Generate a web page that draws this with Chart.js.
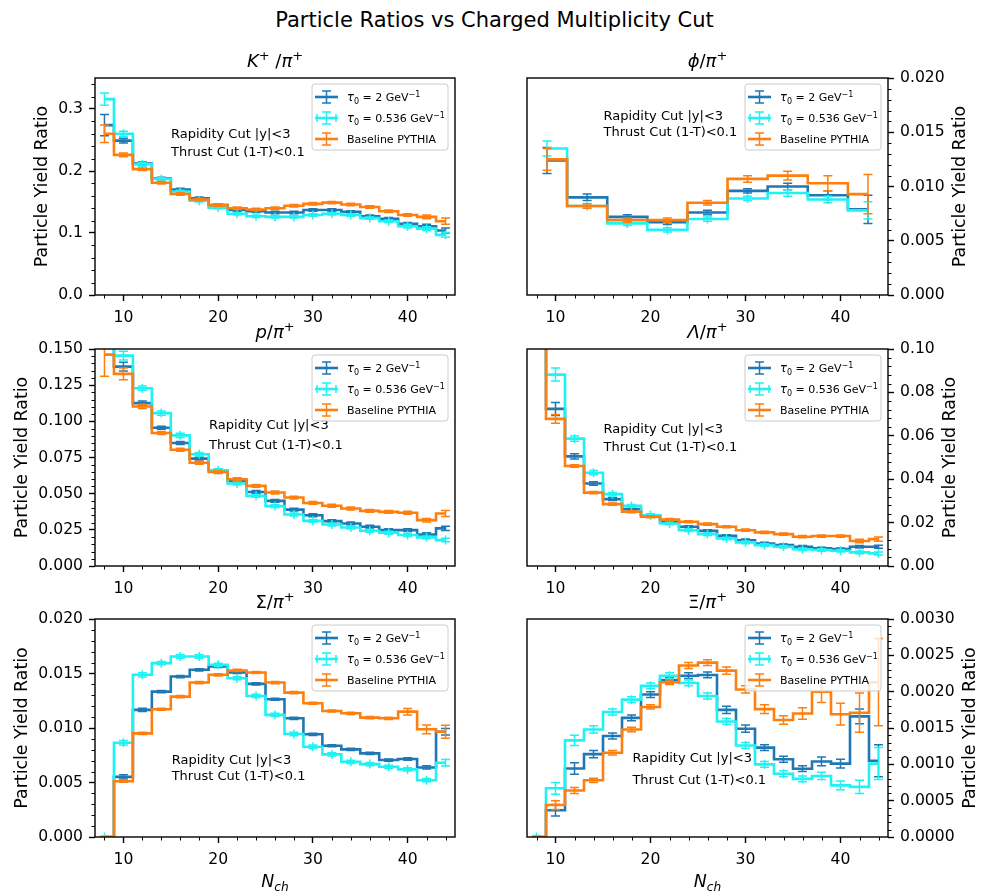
<!DOCTYPE html>
<html>
<head>
<meta charset="utf-8">
<script src="https://cdn.jsdelivr.net/npm/chart.js@4.4.0/dist/chart.umd.min.js"></script>
<style>
  body { margin: 0; background: #fff; }
  #fig { position: relative; width: 989px; height: 891px; background: #fff; overflow: hidden; font-family: 'DejaVu Sans'; }
  #suptitle { position: absolute; left: 0; top: 10px; width: 989px; text-align: center; font-size: 21px; line-height: 21px; color: #000; }
  canvas { position: absolute; }
</style>
</head>
<body>
<div id="fig">
  <div id="suptitle">Particle Ratios vs Charged Multiplicity Cut</div>
</div>
<script>
'use strict';

// bin centres (N_ch)
const nch = [8, 10, 12, 14, 16, 18, 20, 22, 24, 26, 28, 30, 32, 34, 36, 38, 40, 42, 44];
const nchPhi = [9.11, 13.33, 17.56, 21.78, 26.0, 30.22, 34.44, 38.67, 42.89];
const nchTickLabels = ['10', '20', '30', '40'];

const seriesLabels = ['τ₀ = 2 GeV⁻¹', 'τ₀ = 0.536 GeV⁻¹', 'Baseline PYTHIA'];

// K+/pi+
const kpiTau2 = [0.274, 0.249, 0.212, 0.188, 0.170, 0.156, 0.145, 0.137, 0.135, 0.133, 0.133, 0.137, 0.137, 0.134, 0.127, 0.123, 0.115, 0.111, 0.104];
const kpiTau2Err = [0.017, 0.004, 0.003, 0.002, 0.002, 0.002, 0.002, 0.002, 0.002, 0.002, 0.002, 0.002, 0.002, 0.002, 0.002, 0.002, 0.002, 0.003, 0.004];
const kpiTau0536 = [0.316, 0.260, 0.211, 0.187, 0.167, 0.152, 0.141, 0.131, 0.127, 0.126, 0.126, 0.129, 0.131, 0.129, 0.124, 0.119, 0.111, 0.107, 0.097];
const kpiTau0536Err = [0.010, 0.004, 0.003, 0.002, 0.002, 0.002, 0.002, 0.002, 0.002, 0.002, 0.002, 0.002, 0.002, 0.002, 0.002, 0.002, 0.003, 0.003, 0.004];
const kpiBase = [0.260, 0.226, 0.203, 0.181, 0.163, 0.154, 0.145, 0.140, 0.138, 0.140, 0.144, 0.147, 0.149, 0.146, 0.142, 0.135, 0.129, 0.126, 0.119];
const kpiBaseErr = [0.014, 0.003, 0.002, 0.002, 0.002, 0.002, 0.002, 0.002, 0.002, 0.002, 0.002, 0.002, 0.002, 0.002, 0.002, 0.002, 0.002, 0.003, 0.005];
const kpiTickLabels = ['0.0', '0.1', '0.2', '0.3'];

// phi/pi+
const phiTau2 = [0.0124, 0.0090, 0.0072, 0.0067, 0.0076, 0.0096, 0.0100, 0.0092, 0.0079];
const phiTau2Err = [0.0012, 0.0003, 0.0002, 0.0002, 0.0002, 0.0002, 0.0003, 0.0004, 0.0013];
const phiTau0536 = [0.0135, 0.0082, 0.0066, 0.0060, 0.0070, 0.0089, 0.0094, 0.0088, 0.0078];
const phiTau0536Err = [0.0007, 0.0002, 0.0002, 0.0002, 0.0002, 0.0002, 0.0003, 0.0003, 0.0008];
const phiBase = [0.0125, 0.0082, 0.0069, 0.0069, 0.0085, 0.0107, 0.0110, 0.0103, 0.0093];
const phiBaseErr = [0.0010, 0.0002, 0.0002, 0.0002, 0.0002, 0.0003, 0.0004, 0.0007, 0.0018];
const phiTickLabels = ['0.000', '0.005', '0.010', '0.015', '0.020'];

// p/pi+
const ppiTau2 = [0.165, 0.1378, 0.1126, 0.0956, 0.0850, 0.0742, 0.0662, 0.0588, 0.0512, 0.0450, 0.0390, 0.0351, 0.0310, 0.0294, 0.0271, 0.0248, 0.0248, 0.0218, 0.0260];
const ppiTau2Err = [0.010, 0.003, 0.0015, 0.001, 0.001, 0.001, 0.001, 0.001, 0.001, 0.001, 0.001, 0.001, 0.001, 0.001, 0.001, 0.001, 0.001, 0.0012, 0.0015];
const ppiTau0536 = [0.175, 0.1454, 0.1229, 0.1057, 0.0903, 0.0772, 0.0662, 0.0570, 0.0485, 0.0414, 0.0356, 0.0312, 0.0287, 0.0266, 0.0244, 0.0230, 0.0214, 0.0198, 0.0179];
const ppiTau0536Err = [0.008, 0.003, 0.0015, 0.0015, 0.0015, 0.0012, 0.001, 0.001, 0.001, 0.001, 0.001, 0.001, 0.001, 0.001, 0.001, 0.001, 0.001, 0.001, 0.0012];
const ppiBase = [0.1461, 0.1328, 0.1103, 0.0919, 0.0804, 0.0714, 0.0650, 0.0600, 0.0554, 0.0508, 0.0473, 0.0436, 0.0416, 0.0397, 0.0381, 0.0374, 0.0368, 0.0317, 0.0363];
const ppiBaseErr = [0.015, 0.004, 0.0015, 0.001, 0.001, 0.001, 0.001, 0.001, 0.001, 0.001, 0.001, 0.001, 0.001, 0.001, 0.001, 0.001, 0.001, 0.0012, 0.002];
const ppiTickLabels = ['0.000', '0.025', '0.050', '0.075', '0.100', '0.125', '0.150'];

// Lambda/pi+
const lpiTau2 = [0.125, 0.0724, 0.0505, 0.0380, 0.0308, 0.0262, 0.0234, 0.0204, 0.0181, 0.0162, 0.0139, 0.0119, 0.0104, 0.0096, 0.0089, 0.0081, 0.0078, 0.0089, 0.0089];
const lpiTau2Err = [0.010, 0.003, 0.0012, 0.0008, 0.0006, 0.0005, 0.0005, 0.0005, 0.0005, 0.0005, 0.0005, 0.0005, 0.0005, 0.0005, 0.0005, 0.0005, 0.0005, 0.0006, 0.0007];
const lpiTau0536 = [0.140, 0.0882, 0.0587, 0.0430, 0.0331, 0.0277, 0.0234, 0.0196, 0.0165, 0.0147, 0.0127, 0.0109, 0.0096, 0.0089, 0.0077, 0.0074, 0.0070, 0.0063, 0.0058];
const lpiTau0536Err = [0.010, 0.003, 0.0012, 0.001, 0.0008, 0.0006, 0.0006, 0.0006, 0.0006, 0.0006, 0.0006, 0.0006, 0.0006, 0.0006, 0.0006, 0.0006, 0.0006, 0.0006, 0.0007];
const lpiBase = [0.120, 0.0678, 0.0461, 0.0338, 0.0285, 0.0250, 0.0227, 0.0214, 0.0204, 0.0193, 0.0181, 0.0165, 0.0155, 0.0147, 0.0135, 0.0138, 0.0138, 0.0115, 0.0124];
const lpiBaseErr = [0.010, 0.002, 0.0006, 0.0005, 0.0005, 0.0005, 0.0005, 0.0005, 0.0005, 0.0005, 0.0005, 0.0005, 0.0005, 0.0005, 0.0005, 0.0005, 0.0005, 0.0008, 0.001];
const lpiTickLabels = ['0.00', '0.02', '0.04', '0.06', '0.08', '0.10'];

// Sigma/pi+
const spiTau2 = [0, 0.00552, 0.01166, 0.01334, 0.01472, 0.01534, 0.01564, 0.01509, 0.01405, 0.01264, 0.01089, 0.00942, 0.00837, 0.00804, 0.00767, 0.00706, 0.00715, 0.00638, 0.00966];
const spiTau2Err = [0, 0.0002, 0.00015, 0.0001, 0.0001, 0.0001, 0.0001, 0.0001, 0.0001, 0.0001, 0.0001, 0.0001, 0.0001, 0.0001, 0.0001, 0.0001, 0.00012, 0.00015, 0.0003];
const spiTau0536 = [0, 0.00865, 0.01488, 0.01595, 0.01656, 0.01656, 0.01580, 0.01457, 0.01294, 0.01120, 0.00945, 0.00828, 0.00758, 0.00690, 0.00669, 0.00644, 0.00620, 0.00521, 0.00681];
const spiTau0536Err = [0.0001, 0.0002, 0.0002, 0.00015, 0.00015, 0.00015, 0.00015, 0.00015, 0.00015, 0.00015, 0.00015, 0.00015, 0.00015, 0.00015, 0.00015, 0.00015, 0.00015, 0.00015, 0.0003];
const spiBase = [0, 0.00512, 0.00951, 0.01172, 0.01288, 0.01417, 0.01488, 0.01528, 0.01509, 0.01417, 0.01325, 0.01227, 0.01156, 0.01135, 0.01095, 0.01089, 0.01150, 0.00988, 0.00966];
const spiBaseErr = [0, 0.0001, 0.0001, 0.0001, 0.0001, 0.0001, 0.0001, 0.0001, 0.0001, 0.0001, 0.0001, 0.0001, 0.0001, 0.0001, 0.0001, 0.0001, 0.0003, 0.0004, 0.0006];
const spiTickLabels = ['0.000', '0.005', '0.010', '0.015', '0.020'];

// Xi/pi+
const xpiTau2 = [0, 0.000368, 0.000943, 0.00114, 0.00139, 0.00164, 0.00196, 0.00216, 0.00222, 0.00223, 0.00175, 0.00149, 0.00123, 0.00107, 0.00094, 0.00104, 0.00101, 0.00166, 0.00105];
const xpiTau2Err = [0, 0.00008, 0.00008, 0.00005, 0.00004, 0.00004, 0.00004, 0.00004, 0.00004, 0.00004, 0.00005, 0.00005, 0.00004, 0.00004, 0.00004, 0.00006, 0.00006, 0.0001, 0.00022];
const xpiTau0536 = [0, 0.00067, 0.00133, 0.00148, 0.00172, 0.00189, 0.00208, 0.00222, 0.00212, 0.00194, 0.00159, 0.00126, 0.00100, 0.00087, 0.00080, 0.00084, 0.00071, 0.00069, 0.00101];
const xpiTau0536Err = [0.00002, 0.00008, 0.00007, 0.00005, 0.00004, 0.00004, 0.00004, 0.00004, 0.00004, 0.00004, 0.00004, 0.00004, 0.00004, 0.00004, 0.00004, 0.00005, 0.00006, 0.00009, 0.00022];
const xpiBase = [0, 0.00044, 0.00064, 0.00078, 0.00116, 0.00148, 0.00179, 0.00213, 0.00236, 0.00240, 0.00229, 0.00203, 0.00176, 0.00161, 0.00170, 0.00200, 0.00169, 0.00171, 0.00213];
const xpiBaseErr = [0, 0.00006, 0.00004, 0.00003, 0.00003, 0.00003, 0.00003, 0.00003, 0.00004, 0.00004, 0.00005, 0.00005, 0.00006, 0.00006, 0.00008, 0.00015, 0.00015, 0.00027, 0.0006];
const xpiTickLabels = ['0.0000', '0.0005', '0.0010', '0.0015', '0.0020', '0.0025', '0.0030'];

const colors = ['#1f77b4', '#1ff2f2', '#ff7f0e'];
const FONT = 'DejaVu Sans';

// grid of axes boxes (pixels in the figure)
const cols = [
  { cx: 0, cw: 500, l: 95, r: 455 },
  { cx: 490, cw: 499, l: 527, r: 888 }
];
const rows = [
  { ct: 30, ch: 300, t: 78, b: 295 },
  { ct: 320, ch: 280, t: 349, b: 566 },
  { ct: 590, ch: 301, t: 619, b: 837 }
];

// panel title runs: [text, size, italic, dy]
const sup = ['+', 13, false, -7.5];
const panels = [
  { title: [['K', 18, true, 0], sup, [' /', 18, false, 0]], x: nch,
    vals: [kpiTau2, kpiTau0536, kpiBase], errs: [kpiTau2Err, kpiTau0536Err, kpiBaseErr],
    ticks: kpiTickLabels, yMax: 0.35, yStep: 0.1, yMinor: 0.02, col: 0, row: 0, annot: [0.211, 57, 75] },
  { title: [['ϕ', 18, true, 0], ['/', 18, false, 0]], x: nchPhi,
    vals: [phiTau2, phiTau0536, phiBase], errs: [phiTau2Err, phiTau0536Err, phiBaseErr],
    ticks: phiTickLabels, yMax: 0.02, yStep: 0.005, yMinor: 0.001, col: 1, row: 0, annot: [0.212, 39, 55] },
  { title: [['p', 18, true, 0], ['/', 18, false, 0]], x: nch,
    vals: [ppiTau2, ppiTau0536, ppiBase], errs: [ppiTau2Err, ppiTau0536Err, ppiBaseErr],
    ticks: ppiTickLabels, yMax: 0.15, yStep: 0.025, yMinor: 0.005, col: 0, row: 1, annot: [0.317, 77, 97] },
  { title: [['Λ', 18, true, 0], ['/', 18, false, 0]], x: nch,
    vals: [lpiTau2, lpiTau0536, lpiBase], errs: [lpiTau2Err, lpiTau0536Err, lpiBaseErr],
    ticks: lpiTickLabels, yMax: 0.1, yStep: 0.02, yMinor: 0.004, col: 1, row: 1, annot: [0.212, 81, 99] },
  { title: [['Σ', 18, false, 0], ['/', 18, false, 0]], x: nch,
    vals: [spiTau2, spiTau0536, spiBase], errs: [spiTau2Err, spiTau0536Err, spiBaseErr],
    ticks: spiTickLabels, yMax: 0.02, yStep: 0.005, yMinor: 0.001, col: 0, row: 2, annot: [0.213, 142, 158] },
  { title: [['Ξ', 18, false, 0], ['/', 18, false, 0]], x: nch,
    vals: [xpiTau2, xpiTau0536, xpiBase], errs: [xpiTau2Err, xpiTau0536Err, xpiBaseErr],
    ticks: xpiTickLabels, yMax: 0.003, yStep: 0.0005, yMinor: 0.0001, col: 1, row: 2, annot: [0.292, 140, 162] }
];

function drawRuns(ctx, runs, x, y, align) {
  const fontOf = r => (r[2] ? 'italic ' : '') + r[1] + 'px "' + FONT + '"';
  let w = 0;
  runs.forEach(r => { ctx.font = fontOf(r); w += ctx.measureText(r[0]).width; });
  let cx = align === 'center' ? x - w / 2 : x;
  ctx.textAlign = 'left';
  ctx.textBaseline = 'alphabetic';
  runs.forEach(r => {
    ctx.font = fontOf(r);
    ctx.fillText(r[0], cx, y + r[3]);
    cx += ctx.measureText(r[0]).width;
  });
}

function legendRuns(i) {
  if (i === 2) return [['Baseline PYTHIA', 11, false, 0]];
  const num = i === 0 ? '2' : '0.536';
  return [['τ', 11.5, true, 0], ['0', 8, false, 2.5], [' = ' + num + ' GeV', 11, false, 0], ['−1', 8, false, -4.5]];
}

// error bars, minor ticks, frame, titles, legend and notes
function makeDecor(p) {
  const right = p.col === 1;
  return {
    id: 'decor',
    afterDatasetDraw(chart, args) {
      const ds = chart.data.datasets[args.index];
      const xs = chart.scales.x, ys = chart.scales.y, a = chart.chartArea, ctx = chart.ctx;
      ctx.save();
      ctx.beginPath();
      ctx.rect(a.left, a.top, a.right - a.left, a.bottom - a.top);
      ctx.clip();
      ctx.strokeStyle = ds.borderColor;
      ctx.lineWidth = 1.5;
      ds.data.forEach((pt, i) => {
        const e = ds.errors[i];
        const px = xs.getPixelForValue(pt.x), py = ys.getPixelForValue(pt.y);
        const y1 = ys.getPixelForValue(pt.y - e), y2 = ys.getPixelForValue(pt.y + e);
        ctx.beginPath();
        ctx.moveTo(px, y1); ctx.lineTo(px, y2);
        ctx.moveTo(px - 4.5, y1); ctx.lineTo(px + 4.5, y1);
        ctx.moveTo(px - 4.5, y2); ctx.lineTo(px + 4.5, y2);
        if (ds.plusMark) { ctx.moveTo(px, py - 4.5); ctx.lineTo(px, py + 4.5); }
        ctx.stroke();
      });
      ctx.restore();
    },
    afterDraw(chart) {
      const ctx = chart.ctx, a = chart.chartArea, xs = chart.scales.x, ys = chart.scales.y;
      ctx.save();
      ctx.strokeStyle = '#000';
      // minor ticks
      ctx.lineWidth = 1;
      ctx.beginPath();
      for (let v = 8; v <= 44; v += 2) {
        if (v % 10 === 0) continue;
        const px = Math.round(xs.getPixelForValue(v)) + 0.5;
        ctx.moveTo(px, a.bottom); ctx.lineTo(px, a.bottom + 3.5);
      }
      for (let i = 1; i * p.yMinor < p.yMax + 1e-12; i++) {
        const v = i * p.yMinor, q = v / p.yStep;
        if (Math.abs(q - Math.round(q)) < 1e-6) continue;
        const py = Math.round(ys.getPixelForValue(v)) + 0.5;
        if (right) { ctx.moveTo(a.right, py); ctx.lineTo(a.right + 3.5, py); }
        else { ctx.moveTo(a.left, py); ctx.lineTo(a.left - 3.5, py); }
      }
      ctx.stroke();
      // frame
      ctx.lineWidth = 1.4;
      ctx.strokeRect(a.left, a.top, a.right - a.left, a.bottom - a.top);

      ctx.fillStyle = '#000';
      // panel title, X/pi^+
      drawRuns(ctx, p.title.concat([['π', 18, true, 0], sup]), (a.left + a.right) / 2, a.top - 11, 'center');

      // y label
      ctx.font = '15.6px "' + FONT + '"';
      const tw = Math.max(...p.ticks.map(t => ctx.measureText(t).width));
      const lx = right ? a.right + 12 + tw + 7 + 9 : a.left - 12 - tw - 7 - 9;
      ctx.save();
      ctx.translate(lx, (a.top + a.bottom) / 2);
      ctx.rotate(-Math.PI / 2);
      ctx.font = '17.4px "' + FONT + '"';
      ctx.textAlign = 'center';
      ctx.textBaseline = 'middle';
      ctx.fillText('Particle Yield Ratio', 0, 0);
      ctx.restore();

      // x label on bottom row
      if (p.row === 2) {
        drawRuns(ctx, [['N', 17.4, true, 0], ['ch', 12.2, true, 3.5]], (a.left + a.right) / 2, a.bottom + 50, 'center');
      }

      // cut notes
      ctx.font = '13px "' + FONT + '"';
      ctx.textAlign = 'left';
      ctx.textBaseline = 'middle';
      const nx = a.left + p.annot[0] * (a.right - a.left);
      ctx.fillText('Rapidity Cut |y|<3', nx, a.top + p.annot[1]);
      ctx.fillText('Thrust Cut (1-T)<0.1', nx, a.top + p.annot[2]);

      // legend
      const bw = 136, bh = 66;
      const bx = a.right - 7 - bw, by = a.top + 6;
      ctx.beginPath();
      ctx.roundRect(bx, by, bw, bh, 3);
      ctx.fillStyle = 'rgba(255,255,255,0.8)';
      ctx.fill();
      ctx.strokeStyle = '#cccccc';
      ctx.lineWidth = 1;
      ctx.stroke();
      seriesLabels.forEach((lab, i) => {
        const cy = by + 13 + 21 * i, hx = bx + 14.5;
        ctx.strokeStyle = colors[i];
        ctx.lineWidth = 2.6;
        ctx.beginPath();
        ctx.moveTo(bx + 3, cy); ctx.lineTo(bx + 26, cy);
        ctx.stroke();
        ctx.lineWidth = 1.5;
        ctx.beginPath();
        ctx.moveTo(hx, cy - 6); ctx.lineTo(hx, cy + 6);
        ctx.moveTo(hx - 4.5, cy - 6); ctx.lineTo(hx + 4.5, cy - 6);
        ctx.moveTo(hx - 4.5, cy + 6); ctx.lineTo(hx + 4.5, cy + 6);
        if (i === 1) {
          ctx.moveTo(bx + 5, cy - 4); ctx.lineTo(bx + 5, cy + 4);
          ctx.moveTo(bx + 24, cy - 4); ctx.lineTo(bx + 24, cy + 4);
        }
        ctx.stroke();
        ctx.fillStyle = '#000';
        drawRuns(ctx, legendRuns(i), bx + 35, cy + 4, 'left');
      });
      ctx.restore();
    }
  };
}

const fig = document.getElementById('fig');

panels.forEach(p => {
  const c = cols[p.col], r = rows[p.row];
  const right = p.col === 1;
  const canvas = document.createElement('canvas');
  canvas.width = c.cw; canvas.height = r.ch;
  canvas.style.left = c.cx + 'px'; canvas.style.top = r.ct + 'px';
  canvas.style.width = c.cw + 'px'; canvas.style.height = r.ch + 'px';
  fig.appendChild(canvas);

  const datasets = p.vals.map((vals, i) => ({
    label: seriesLabels[i],
    data: p.x.map((x, j) => ({ x: x, y: vals[j] })),
    errors: p.errs[i],
    plusMark: i === 1,
    borderColor: colors[i],
    borderWidth: 2.6,
    stepped: 'middle',
    pointRadius: 0,
    fill: false,
    order: 2 - i
  }));

  const tickFont = { family: FONT, size: 15.6 };
  const yAxisWidth = right ? (c.cx + c.cw - c.r) : (c.l - c.cx);

  new Chart(canvas, {
    type: 'line',
    data: { datasets: datasets },
    options: {
      animation: false,
      responsive: false,
      devicePixelRatio: 1,
      events: [],
      layout: {
        padding: {
          top: r.t - r.ct,
          bottom: 0,
          left: right ? c.l - c.cx : 0,
          right: right ? 0 : c.cx + c.cw - c.r
        }
      },
      scales: {
        x: {
          type: 'linear',
          min: 7,
          max: 45,
          afterBuildTicks: s => { s.ticks = nchTickLabels.map(t => ({ value: parseFloat(t) })); },
          afterFit: s => { s.height = r.ct + r.ch - r.b; },
          ticks: { font: tickFont, color: '#000', padding: 8, maxRotation: 0, autoSkip: false,
                   callback: (v, i) => nchTickLabels[i] },
          grid: { display: true, drawOnChartArea: false, drawTicks: true, tickLength: 6, tickWidth: 1.4, tickColor: '#000' },
          border: { display: false }
        },
        y: {
          type: 'linear',
          position: right ? 'right' : 'left',
          min: 0,
          max: p.yMax,
          afterBuildTicks: s => { s.ticks = p.ticks.map(t => ({ value: parseFloat(t) })); },
          afterFit: s => { s.width = yAxisWidth; },
          ticks: { font: tickFont, color: '#000', padding: 6, autoSkip: false,
                   callback: (v, i) => p.ticks[i] },
          grid: { display: true, drawOnChartArea: false, drawTicks: true, tickLength: 6, tickWidth: 1.4, tickColor: '#000' },
          border: { display: false }
        }
      },
      plugins: {
        legend: { display: false },
        tooltip: { enabled: false },
        title: { display: false }
      }
    },
    plugins: [makeDecor(p)]
  });
});
</script>
</body>
</html>
